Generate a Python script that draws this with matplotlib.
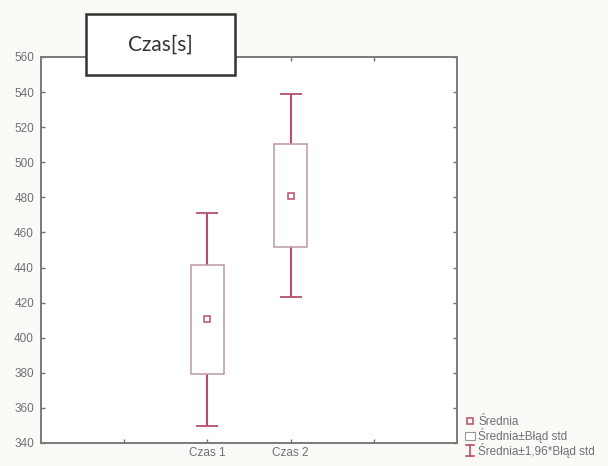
import matplotlib.pyplot as plt
from matplotlib.lines import Line2D
from matplotlib.patches import Patch, Rectangle
from matplotlib.legend_handler import HandlerBase

plt.rcParams['font.family'] = ['Liberation Sans', 'DejaVu Sans']

# mean and standard error for each measurement
categories = ["Czas 1", "Czas 2"]
means = [410.5, 481.0]
std_errs = [31.0, 29.5]
positions = [2, 3]
y_ticks = list(range(340, 561, 20))

box_edge = "#bc9aa0"
red = "#b8506a"
grey_txt = "#707070"


class IBeam:
    pass


class HandlerIBeam(HandlerBase):
    def create_artists(self, legend, orig_handle, xdescent, ydescent,
                       width, height, fontsize, trans):
        cx = width / 2 - xdescent
        lo, hi = -ydescent - 1, height - ydescent + 1
        w = 3
        return [
            Line2D([cx, cx], [lo, hi], color=red, lw=1.2, transform=trans),
            Line2D([cx - w, cx + w], [lo, lo], color=red, lw=1.2, transform=trans),
            Line2D([cx - w, cx + w], [hi, hi], color=red, lw=1.2, transform=trans),
        ]


fig = plt.figure(figsize=(6.08, 4.66), dpi=100, facecolor="#fcfaf6")
ax = fig.add_axes([0.0674, 0.0494, 0.6842, 0.8283])
ax.set_facecolor("white")

# whiskers: mean +/- 1.96 * SE
wlo = [1.96 * s for s in std_errs]
ax.errorbar(positions, means, yerr=[wlo, wlo], fmt="none", ecolor=red,
            elinewidth=1.5, capsize=8, capthick=1.3, zorder=1)
# boxes: mean +/- SE
ax.bar(positions, [2 * s for s in std_errs],
       bottom=[m - s for m, s in zip(means, std_errs)], width=0.4,
       color="white", edgecolor=box_edge, linewidth=1.1, zorder=2)
ax.plot(positions, means, linestyle="none", marker="s", markersize=4,
        markerfacecolor="none", markeredgecolor=red, markeredgewidth=1.1,
        zorder=3)

ax.set_xlim(0, 5)
ax.set_ylim(340, 560)
ax.set_xticks(positions)
ax.set_xticklabels(categories)
ax.set_xticks([1, 4], minor=True)
ax.set_yticks(y_ticks)
ax.tick_params(axis="both", which="both", direction="in", length=3,
               width=1, color="#707070", labelsize=8.5, labelcolor=grey_txt,
               top=True, right=True)
ax.tick_params(axis="y", pad=5)
ax.tick_params(axis="x", pad=3)
for s in ax.spines.values():
    s.set_color("#7a7a7a")
    s.set_linewidth(1.4)

# title box sitting across the top axis line
fig.patches.append(Rectangle((86 / 608, 1 - 75 / 466), 149 / 608, 61 / 466,
                             transform=fig.transFigure, facecolor="white",
                             edgecolor="#333333", linewidth=1.8, zorder=5))
fig.text(160 / 608, 1 - 45 / 466, "Czas[s]", fontsize=15, family="Lato",
         color="#333333", ha="center", va="center", zorder=6)

handles = [
    Line2D([], [], linestyle="none", marker="s", markersize=4,
           markerfacecolor="none", markeredgecolor=red, markeredgewidth=1.1),
    Patch(facecolor="white", edgecolor="#999999", linewidth=0.8),
    IBeam(),
]
labels = ["Średnia", "Średnia±Błąd std", "Średnia±1,96*Błąd std"]
fig.legend(handles, labels, loc="lower left",
           bbox_to_anchor=(458 / 608, 1 / 466), frameon=False, fontsize=8.5,
           labelcolor=grey_txt, handlelength=0.8, handleheight=0.7,
           handletextpad=0.3, labelspacing=0.0, borderpad=0.1,
           handler_map={IBeam: HandlerIBeam()})

fig.savefig("out.png", dpi=100, facecolor=fig.get_facecolor())
